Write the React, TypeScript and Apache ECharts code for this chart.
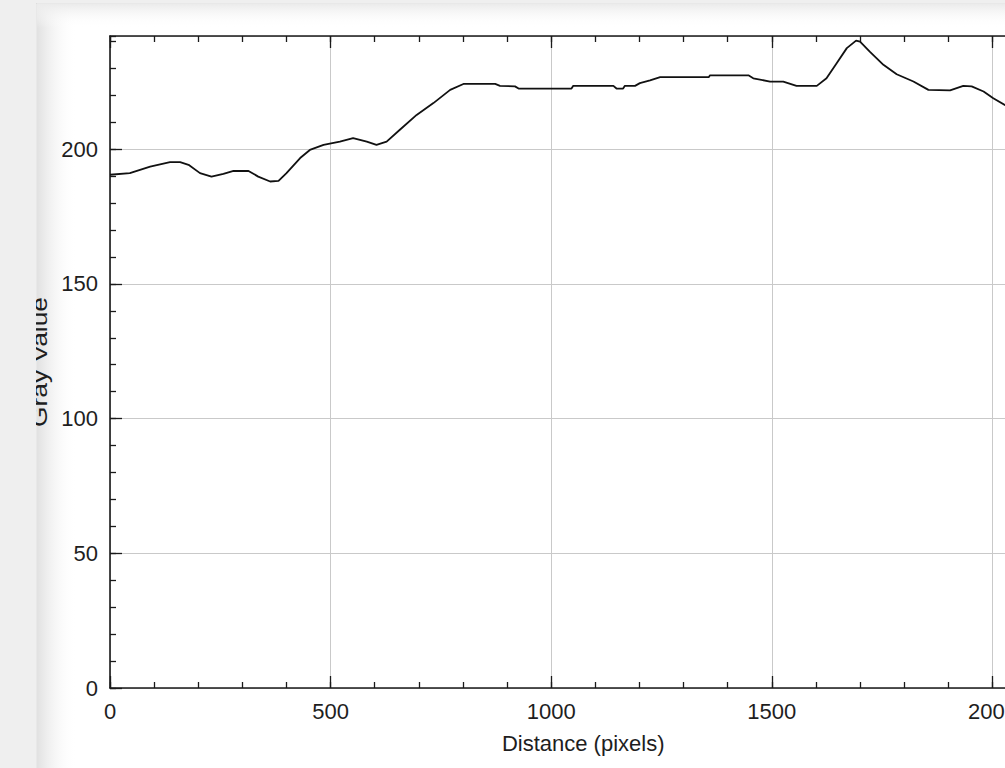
import React, { useEffect, useRef } from "react";
import * as echarts from "echarts";

// Profile samples
const distances = [0, 45, 91, 136, 159, 178, 204, 230, 257, 280, 314, 336, 363, 382, 400, 431, 453, 484, 521, 551, 582, 604, 627, 657, 695, 733, 771, 801, 873, 884, 918, 926, 1046, 1050, 1141, 1148, 1163, 1167, 1190, 1201, 1224, 1247, 1357, 1360, 1447, 1458, 1496, 1526, 1556, 1602, 1624, 1647, 1670, 1691, 1700, 1722, 1753, 1783, 1821, 1855, 1904, 1934, 1953, 1980, 2002, 2028, 2060];
const grayValues = [190.5, 191.1, 193.5, 195.2, 195.2, 194.2, 191.1, 189.8, 190.8, 191.9, 191.9, 189.8, 188, 188.2, 191.1, 196.7, 199.7, 201.6, 202.8, 204.1, 202.8, 201.6, 202.8, 207.2, 212.7, 217.1, 222, 224.2, 224.2, 223.5, 223.3, 222.5, 222.5, 223.5, 223.5, 222.5, 222.5, 223.5, 223.5, 224.5, 225.5, 226.7, 226.7, 227.4, 227.4, 226.3, 225.1, 225.1, 223.5, 223.5, 226.3, 231.9, 237.5, 240.3, 239.9, 236.2, 231.3, 227.8, 225.1, 222, 221.8, 223.5, 223.3, 221.4, 218.9, 216.4, 214];

const xMin = 0;
const xMax = 2145;
const yMin = 0;
const yMax = 242;
const xMajor = 500;
const xMinor = 100;
const yMajor = 50;
const yMinor = 10;
const xTitle = "Distance (pixels)";
const yTitle = "Gray Value";

const FONT = "'Liberation Sans', Arial, sans-serif";
const DARK = "#1a1a1a";

export default function App() {
  const ref = useRef<HTMLDivElement>(null);
  useEffect(() => {
    if (!ref.current) return;
    const chart = echarts.init(ref.current, null, { renderer: "svg" });
    const gridLeft = 110;
    const gridTop = 36;
    const gridHeight = 652;
    const gridWidth = (xMax - xMin) * 0.4412;
    const plain = (v: number) => String(v);

    const baseX = (pos: string, interval: number, len: number, major: boolean) => ({
      type: "value",
      position: pos,
      min: xMin,
      max: xMax,
      interval,
      axisLine: { show: major, lineStyle: { color: DARK, width: 1.6 } },
      axisTick: { show: true, inside: true, length: len, lineStyle: { color: DARK, width: 1.3 } },
      axisLabel: {
        show: major && pos === "bottom",
        showMaxLabel: false,
        formatter: plain,
        color: "#1e1e1e",
        fontFamily: FONT,
        fontSize: 22,
        margin: 12,
      },
      splitLine: { show: major && pos === "bottom", lineStyle: { color: "#c9c9c9", width: 1 } },
      ...(major && pos === "bottom"
        ? {
            name: xTitle,
            nameLocation: "middle",
            nameGap: 44,
            nameTextStyle: { color: "#1e1e1e", fontFamily: FONT, fontSize: 22 },
          }
        : {}),
    });
    const baseY = (interval: number, len: number, major: boolean) => ({
      type: "value",
      position: "left",
      min: yMin,
      max: yMax,
      interval,
      axisLine: { show: major, lineStyle: { color: DARK, width: 1.6 } },
      axisTick: { show: true, inside: true, length: len, lineStyle: { color: DARK, width: 1.3 } },
      axisLabel: {
        show: major,
        showMaxLabel: false,
        formatter: plain,
        color: "#1e1e1e",
        fontFamily: FONT,
        fontSize: 22,
        margin: 12,
      },
      splitLine: { show: major, lineStyle: { color: "#c9c9c9", width: 1 } },
    });

    chart.setOption({
      animation: false,
      backgroundColor: "transparent",
      graphic: [
        {
          type: "rect",
          z: -100,
          silent: true,
          shape: { x: 36, y: 3, width: 1100, height: 800 },
          style: { fill: "#ffffff", stroke: "#d2d2d2", lineWidth: 1 },
        },
        {
          type: "rect",
          z: -99,
          silent: true,
          shape: { x: 37, y: 4, width: 40, height: 800 },
          style: {
            fill: new echarts.graphic.LinearGradient(0, 0, 1, 0, [
              { offset: 0, color: "rgba(225,225,225,1)" },
              { offset: 1, color: "rgba(255,255,255,0)" },
            ]),
          },
        },
        {
          type: "rect",
          z: -99,
          silent: true,
          shape: { x: 37, y: 4, width: 1100, height: 24 },
          style: {
            fill: new echarts.graphic.LinearGradient(0, 0, 0, 1, [
              { offset: 0, color: "rgba(235,235,235,1)" },
              { offset: 1, color: "rgba(255,255,255,0)" },
            ]),
          },
        },
        {
          type: "text",
          z: 50,
          silent: true,
          x: 39,
          y: gridTop + gridHeight / 2,
          rotation: Math.PI / 2,
          scaleX: 1.2,
          style: {
            text: yTitle,
            fill: "#1e1e1e",
            font: `22px ${FONT}`,
            align: "center",
            verticalAlign: "middle",
          },
        },
        {
          type: "rect",
          z: 100,
          silent: true,
          shape: { x: 0, y: 0, width: 36, height: 800 },
          style: { fill: "#efefef" },
        },
        {
          type: "rect",
          z: 100,
          silent: true,
          shape: { x: 0, y: 0, width: 1100, height: 3 },
          style: { fill: "#efefef" },
        },
      ],
      grid: { left: gridLeft, top: gridTop, width: gridWidth, height: gridHeight },
      xAxis: [
        baseX("bottom", xMajor, 12, true),
        baseX("bottom", xMinor, 6, false),
        baseX("top", xMajor, 12, true),
        baseX("top", xMinor, 6, false),
      ],
      yAxis: [baseY(yMajor, 12, true), baseY(yMinor, 6, false)],
      series: [
        {
          type: "line",
          xAxisIndex: 0,
          yAxisIndex: 0,
          data: distances.map((d, i) => [d, grayValues[i]]),
          showSymbol: false,
          lineStyle: { color: "#111", width: 1.8 },
          smooth: false,
        },
      ],
    });
    return () => chart.dispose();
  }, []);

  return (
    <div
      style={{
        position: "fixed",
        left: 0,
        top: 0,
        width: 1005,
        height: 768,
        overflow: "hidden",
        background: "#efefef",
      }}
    >
      <div ref={ref} style={{ position: "absolute", left: 0, top: 0, width: 1100, height: 768 }} />
    </div>
  );
}
